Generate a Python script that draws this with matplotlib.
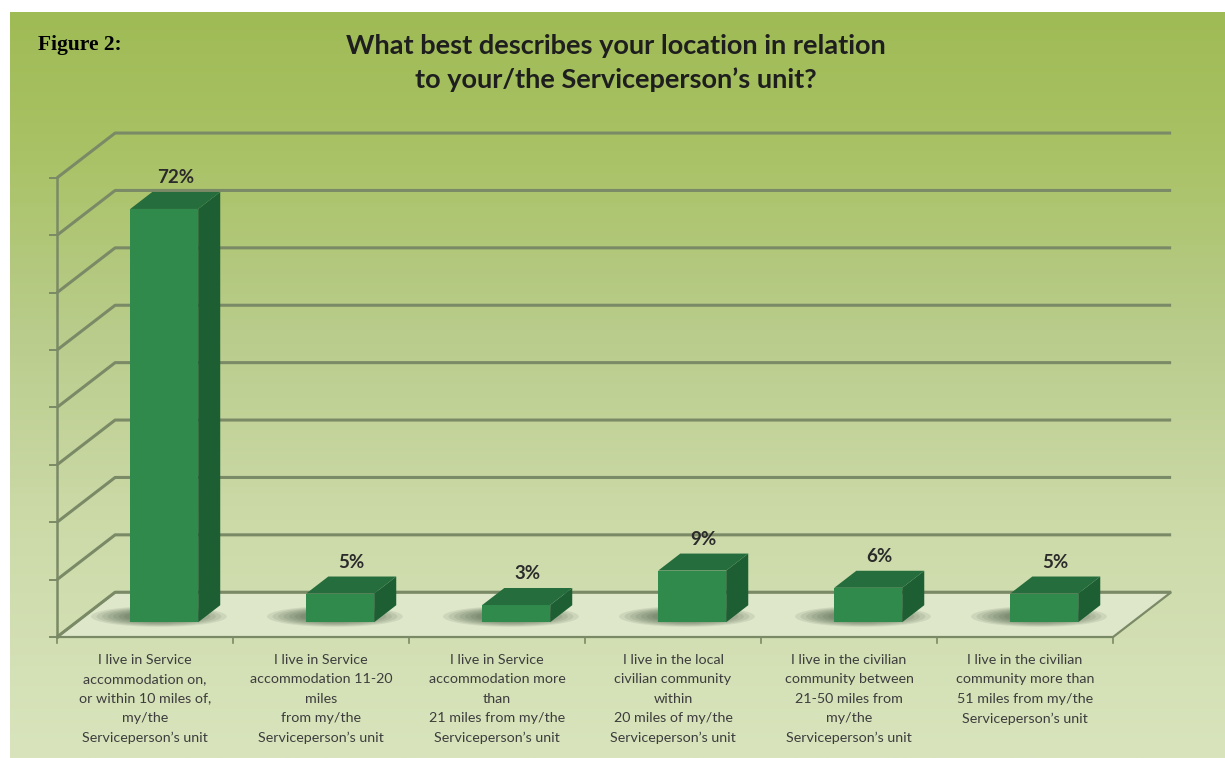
import numpy as np
import matplotlib
matplotlib.use('Agg')
import matplotlib.pyplot as plt
from matplotlib.patches import Polygon, Rectangle, Ellipse
from matplotlib.colors import to_rgb

# ─────────────────────────────────────────
#  Données
# ─────────────────────────────────────────
categories = [
    "I live in Service\naccommodation on,\nor within 10 miles of,\nmy/the\nServiceperson\u2019s unit",
    "I live in Service\naccommodation 11-20\nmiles\nfrom my/the\nServiceperson\u2019s unit",
    "I live in Service\naccommodation more\nthan\n21 miles from my/the\nServiceperson\u2019s unit",
    "I live in the local\ncivilian community\nwithin\n20 miles of my/the\nServiceperson\u2019s unit",
    "I live in the civilian\ncommunity between\n21-50 miles from\nmy/the\nServiceperson\u2019s unit",
    "I live in the civilian\ncommunity more than\n51 miles from my/the\nServiceperson\u2019s unit",
]
values = [72, 5, 3, 9, 6, 5]
grid_levels = list(range(0, 81, 10))

title = "What best describes your location in relation\nto your/the Serviceperson\u2019s unit?"
fig_label = "Figure 2:"

# ── géométrie pseudo-3D (unités de données) ──
DX, DY = 0.33, 7.8        # profondeur du plancher
F0 = 0.33                 # position de la face avant des barres dans la profondeur
BD = 0.38                 # profondeur des barres
HW = 0.193                # demi-largeur des barres

C_FRONT = "#2f8a4c"
C_SIDE = "#1d5e33"
C_TOP = "#256d3d"
C_GRID = "#7b8a66"

W, H = 1225, 758
fig = plt.figure(figsize=(W / 100, H / 100), dpi=100)
fig.patch.set_facecolor("white")

# ── fond en dégradé ──
bg = fig.add_axes([0, 0, 1, 1])
bg.set_xlim(0, W)
bg.set_ylim(H, 0)
bg.axis("off")
stops_y = [12, 150, 330, 520, 758]
stops_c = ["#9fbb55", "#a9c265", "#b9cc8b", "#ccdaa8", "#d9e4bd"]
ys = np.linspace(12, 758, 300)
grad = np.zeros((len(ys), 2, 3))
for k in range(3):
    col = np.interp(ys, stops_y, [to_rgb(c)[k] for c in stops_c])
    grad[:, 0, k] = col
    grad[:, 1, k] = col
bg.imshow(grad, extent=(10, W, 758, 12), aspect="auto", interpolation="bilinear")

# ── axes principaux : x = catégorie, y = pourcentage ──
ax = fig.add_axes([0, 0, 1, 1])
ax.patch.set_alpha(0)
ax.set_xlim(-0.824, 6.136)
ax.set_ylim(-21.08, 110.98)
ax.axis("off")

x0, x1 = -0.5, len(values) - 0.5

# plancher
ax.add_patch(Polygon([(x0, 0), (x1, 0), (x1 + DX, DY), (x0 + DX, DY)],
                     closed=True, facecolor="#dfe7cb", edgecolor=C_GRID, lw=1.6, zorder=1))

# quadrillage : mur gauche + mur du fond
for lv in grid_levels:
    ax.plot([x0, x0 + DX, x1 + DX], [lv, lv + DY, lv + DY], color=C_GRID, lw=2.2,
            solid_capstyle="butt", zorder=1)
    ax.plot([x0 - 0.04, x0], [lv, lv], color=C_GRID, lw=1.4, zorder=1)
ax.plot([x0, x0], [0, grid_levels[-1]], color=C_GRID, lw=1.8, zorder=1)
# graduations sous le plancher
for b in np.arange(x0, x1 + 0.01, 1.0):
    ax.plot([b, b], [0, -1.1], color=C_GRID, lw=1.2, zorder=1)

# barres
for i, v in enumerate(values):
    xl = i + F0 * DX - HW
    xr = i + F0 * DX + HW
    yb = F0 * DY
    yt = yb + v
    bdx, bdy = BD * DX, BD * DY

    # ombre portée douce, décalée vers la gauche
    for s in np.linspace(1.0, 0.35, 9):
        ax.add_patch(Ellipse((i + F0 * DX - 0.03, yb + 1.0), width=2 * HW * 2.0 * s,
                             height=3.6 * s, facecolor="#1c341a", alpha=0.09, lw=0, zorder=2))

    ax.add_patch(Rectangle((xl, yb), xr - xl, v, facecolor=C_FRONT, edgecolor="none", zorder=3))
    ax.add_patch(Polygon([(xr, yb), (xr + bdx, yb + bdy), (xr + bdx, yt + bdy), (xr, yt)],
                         closed=True, facecolor=C_SIDE, edgecolor="none", zorder=3))
    ax.add_patch(Polygon([(xl, yt), (xr, yt), (xr + bdx, yt + bdy), (xl + bdx, yt + bdy)],
                         closed=True, facecolor=C_TOP, edgecolor="none", zorder=3))

    ax.text(i + F0 * DX + bdx / 2, yt + bdy + 2.5, f"{v}%", ha="center", va="center",
            fontsize=13.5, fontweight="bold", family="Lato", color="#2b2b2b", zorder=4)

    ax.text(i, -3.0, categories[i], ha="center", va="top", fontsize=10.3, family="Lato",
            color="#3d3d3d", linespacing=1.72, zorder=4)

# titres
fig.text(616 / W, 1 - 63 / H, title, ha="center", va="center", fontsize=19.5,
         fontweight="bold", family="Lato", color="#1e1e1e", linespacing=1.42)
fig.text(38 / W, 1 - 45 / H, fig_label, ha="left", va="center", fontsize=15.5,
         fontweight="bold", family="Liberation Serif", color="black")

plt.savefig("out.png", dpi=100)
plt.close()
